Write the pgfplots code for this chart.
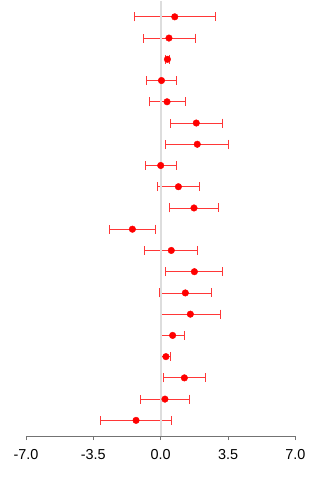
\documentclass[border=0pt]{standalone}
\usepackage{pgfplots}
\pgfplotsset{compat=1.18}
\usepackage{pgfplotstable}
\usepackage{fontspec}
\setmainfont{Liberation Sans}

% row position (top = 20), point estimate, half-width of the interval
\pgfplotstableread{
row est err
20 0.73 2.11
19 0.43 1.35
18 0.35 0.10
17 0.04 0.78
16 0.33 0.94
15 1.85 1.35
14 1.90 1.63
13 0.00 0.82
12 0.92 1.10
11 1.73 1.27
10 -1.47 1.18
9 0.55 1.38
8 1.75 1.48
7 1.28 1.34
6 1.54 1.57
5 0.62 0.59
4 0.27 0.25
3 1.23 1.07
2 0.22 1.27
1 -1.28 1.86
}\estimates

\definecolor{barred}{RGB}{255,55,55}
\definecolor{zerogray}{RGB}{221,221,221}
\definecolor{axisgray}{RGB}{115,115,115}

\begin{document}
\begin{tikzpicture}
\begin{axis}[
  scale only axis,
  width=270bp, height=436bp,
  xmin=-7, xmax=7, ymin=0.26, ymax=20.75,
  axis x line*=bottom, axis y line=none,
  x axis line style={draw=axisgray, line width=0.8bp},
  xtick={-7,-3.5,0,3.5,7},
  xticklabels={-7.0,-3.5,0.0,3.5,7.0},
  xtick align=outside,
  major tick length=4bp,
  every tick/.style={draw=axisgray, line width=0.8bp},
  xticklabel style={font=\fontsize{14.5}{17}\selectfont, yshift=-6bp},
  clip=false,
]
% confidence intervals
\addplot[draw=none, mark=none,
  error bars/.cd, x dir=both, x explicit, error mark=|,
  error bar style={draw=barred, line width=0.8bp},
  error mark options={draw=barred, line width=0.8bp, mark size=4.5bp}]
  table[x=est, y=row, x error=err]{\estimates};
% reference line at zero
\addplot[draw=zerogray, line width=1.8bp] coordinates {(0,0.26) (0,20.75)};
% point estimates
\addplot[only marks, mark=*, mark size=3.3bp, color=red, fill=red]
  table[x=est, y=row]{\estimates};
\end{axis}
\path[use as bounding box] ([shift={(-26bp,-44bp)}]current axis.south west)
  rectangle ([shift={(24bp,0bp)}]current axis.north east);
\end{tikzpicture}
\end{document}
